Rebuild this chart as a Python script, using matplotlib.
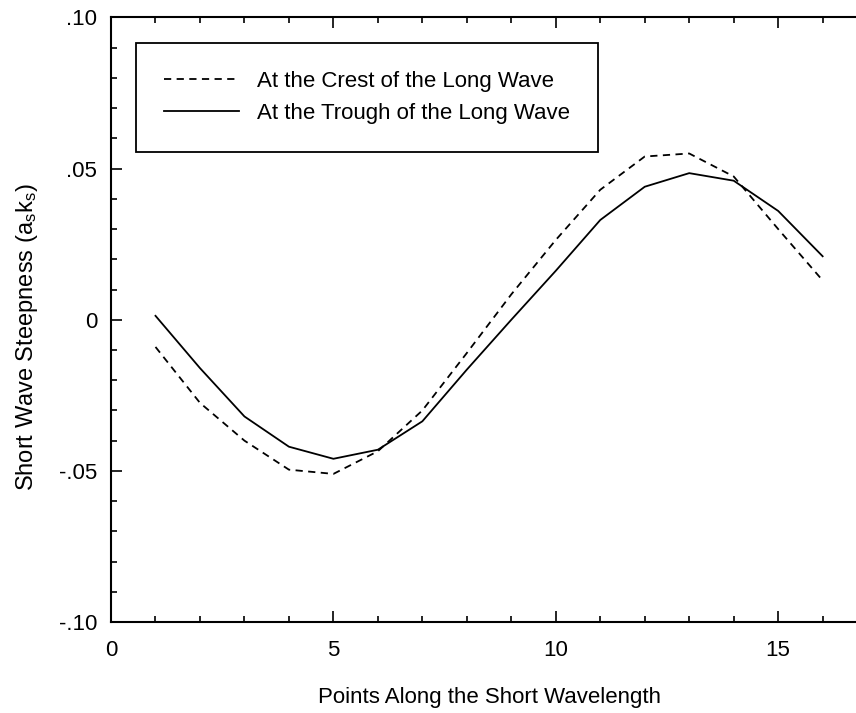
import matplotlib.pyplot as plt
import numpy as np
from matplotlib.ticker import MultipleLocator, FixedLocator, FixedFormatter

plt.rcParams['font.family'] = ['Liberation Sans', 'DejaVu Sans']
plt.rcParams['mathtext.fontset'] = 'custom'
plt.rcParams['mathtext.rm'] = 'Liberation Sans'
plt.rcParams['mathtext.it'] = 'Liberation Sans'

# points along the short wavelength
points = [1, 2, 3, 4, 5, 6, 7, 8, 9, 10, 11, 12, 13, 14, 15, 16]
# short wave steepness at the crest / trough of the long wave
crest = [-0.009, -0.0275, -0.040, -0.0496, -0.051, -0.0435, -0.030, -0.011,
         0.0084, 0.0264, 0.043, 0.054, 0.055, 0.0474, 0.030, 0.013]
trough = [0.0013, -0.016, -0.032, -0.042, -0.046, -0.043, -0.0336, -0.0165,
          0.0, 0.0162, 0.033, 0.044, 0.0485, 0.046, 0.036, 0.021]

ytick_vals = [-0.10, -0.05, 0.0, 0.05, 0.10]
ytick_labels = ['-.10', '-.05', '0', '.05', '.10']

fig = plt.figure(figsize=(8.56, 7.13), dpi=100)
ax = fig.add_axes([0.1297, 0.1276, 0.8703, 0.8479])

ax.plot(points, crest, color='black', lw=1.3, linestyle=(0, (4, 3)),
        label='At the Crest of the Long Wave')
ax.plot(points, trough, color='black', lw=1.3,
        label='At the Trough of the Long Wave')

ax.set_xlim(0, 16.75)
ax.set_ylim(-0.10, 0.10)

ax.xaxis.set_major_locator(FixedLocator([0, 5, 10, 15]))
ax.xaxis.set_minor_locator(MultipleLocator(1))
ax.yaxis.set_major_locator(FixedLocator(ytick_vals))
ax.yaxis.set_major_formatter(FixedFormatter(ytick_labels))
ax.yaxis.set_minor_locator(MultipleLocator(0.01))

ax.spines['right'].set_visible(False)
for s in ['left', 'top', 'bottom']:
    ax.spines[s].set_linewidth(1.5)

ax.tick_params(which='both', direction='in', top=True, right=False,
               width=1.2, labelsize=16)
ax.tick_params(which='major', length=8)
ax.tick_params(which='minor', length=4)
ax.tick_params(axis='x', pad=13)
ax.tick_params(axis='y', pad=10)

fig.text(489.5 / 856, 1 - 697 / 713, 'Points Along the Short Wavelength',
         fontsize=16, ha='center', va='center')
fig.text(27 / 856, 1 - 337 / 713,
         'Short Wave Steepness (a$_\\mathregular{s}$k$_\\mathregular{s}$)',
         fontsize=17, ha='center', va='center', rotation=90)

leg = ax.legend(loc='upper left', bbox_to_anchor=(0.0336, 0.958),
                borderaxespad=0, fontsize=16, handlelength=3.4,
                handletextpad=0.8, borderpad=1.25, labelspacing=0.5,
                fancybox=False, framealpha=1, edgecolor='black')
leg.get_frame().set_linewidth(1.3)

plt.savefig('out.png', dpi=100)
